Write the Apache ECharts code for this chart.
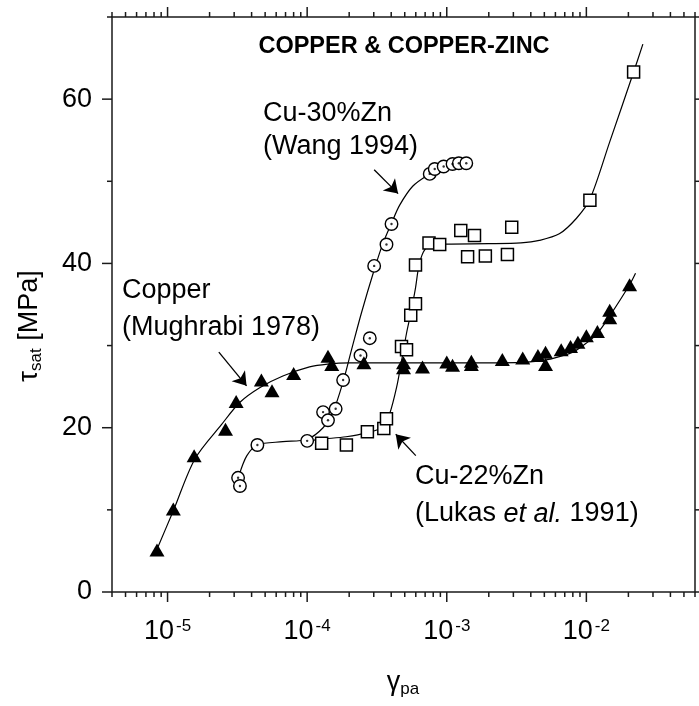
<!DOCTYPE html>
<html><head><meta charset="utf-8">
<script src="https://cdn.jsdelivr.net/npm/echarts@6/dist/echarts.min.js"></script>
<style>html,body{margin:0;padding:0;background:#fff}#c{width:699px;height:706px}</style>
</head><body><div id="c"></div>
<script>
const FONT = 'Liberation Sans, Arial, sans-serif';

// ---- Copper (Mughrabi 1978), filled triangles ----
const copperX = [8.4e-6, 1.1e-5, 1.55e-5, 2.6e-5, 3.1e-5, 4.7e-5, 5.6e-5, 8.0e-5, 1.41e-4, 1.5e-4, 2.55e-4, 4.9e-4, 4.9e-4, 6.7e-4, 1.0e-3, 1.1e-3, 1.5e-3, 1.5e-3, 2.5e-3, 3.5e-3, 4.5e-3, 5.1e-3, 5.1e-3, 6.6e-3, 7.7e-3, 8.7e-3, 1.0e-2, 1.2e-2, 1.47e-2, 1.47e-2, 2.04e-2];
const copperY = [5.1, 10.1, 16.6, 19.8, 23.2, 25.8, 24.5, 26.6, 28.7, 27.7, 27.9, 27.9, 27.3, 27.4, 28.0, 27.6, 28.1, 27.7, 28.3, 28.5, 28.8, 29.2, 27.7, 29.5, 29.9, 30.4, 31.2, 31.7, 33.4, 34.3, 37.4];
const copperFitX = [8.3e-6, 1.1e-5, 1.57e-5, 2.44e-5, 3.3e-5, 4.6e-5, 6.7e-5, 1.04e-4, 1.4e-4, 2.0e-4, 5e-4, 1e-3, 2e-3, 3.5e-3, 4.5e-3, 5.5e-3, 8e-3, 1.0e-2, 1.2e-2, 1.47e-2, 2.04e-2, 2.25e-2];
const copperFitY = [5.0, 9.9, 16.2, 20.4, 23.1, 24.9, 26.3, 27.4, 27.75, 27.9, 27.9, 27.9, 27.9, 27.95, 28.1, 28.35, 29.2, 30.3, 31.5, 33.6, 37.4, 38.8];

// ---- Cu-30%Zn (Wang 1994), open circles with dot ----
const zn30X = [3.2e-5, 3.3e-5, 4.4e-5, 1.0e-4, 1.3e-4, 1.41e-4, 1.6e-4, 1.81e-4, 2.41e-4, 2.81e-4, 3.02e-4, 3.7e-4, 4.02e-4, 7.55e-4, 8.2e-4, 9.5e-4, 1.1e-3, 1.22e-3, 1.38e-3];
const zn30Y = [13.9, 12.9, 17.9, 18.4, 21.9, 20.9, 22.3, 25.8, 28.8, 30.9, 39.7, 42.3, 44.8, 50.9, 51.5, 51.8, 52.1, 52.2, 52.2];
const zn30FitX = [3.25e-5, 3.7e-5, 4.4e-5, 6.7e-5, 1.0e-4, 1.3e-4, 1.53e-4, 1.81e-4, 2.08e-4, 2.45e-4, 3.02e-4, 3.5e-4, 4.02e-4, 4.6e-4, 5.7e-4, 7.4e-4];
const zn30FitY = [14.2, 16.6, 17.9, 18.3, 18.6, 20.0, 21.9, 25.6, 29.5, 34.0, 39.2, 42.5, 44.9, 47.1, 49.4, 50.8];

// ---- Cu-22%Zn (Lukas et al. 1991), open squares ----
const zn22X = [1.27e-4, 1.91e-4, 2.7e-4, 3.54e-4, 3.7e-4, 4.74e-4, 5.15e-4, 5.52e-4, 5.97e-4, 5.97e-4, 7.46e-4, 8.9e-4, 1.26e-3, 1.41e-3, 1.58e-3, 1.89e-3, 2.72e-3, 2.92e-3, 1.06e-2, 2.18e-2];
const zn22Y = [18.1, 17.9, 19.5, 19.9, 21.1, 29.9, 29.5, 33.7, 35.1, 39.8, 42.5, 42.3, 44.0, 40.8, 43.4, 40.9, 41.1, 44.4, 47.7, 63.3];
const zn22FitX = [1.05e-4, 1.27e-4, 1.9e-4, 2.7e-4, 3.5e-4, 3.9e-4, 4.37e-4, 4.74e-4, 5.15e-4, 5.5e-4, 5.97e-4, 6.3e-4, 6.8e-4, 7.6e-4, 1e-3, 2e-3, 3.4e-3, 4.6e-3, 6.4e-3, 8.5e-3, 1.06e-2, 1.47e-2, 2.18e-2, 2.54e-2];
const zn22FitY = [18.4, 18.6, 18.9, 19.4, 20.1, 21.7, 24.9, 28.1, 31.5, 33.8, 37.0, 39.6, 41.4, 42.2, 42.35, 42.4, 42.5, 42.8, 43.6, 45.5, 47.8, 54.8, 63.3, 66.7];

// ---- annotation arrows [fromX, fromY, toX, toY] in data units ----
const arrowWang = [3.02e-4, 51.4, 4.48e-4, 48.5];
const arrowCopper = [2.33e-5, 29.2, 3.68e-5, 25.1];
const arrowLukas = [6.0e-4, 16.6, 4.31e-4, 19.2];

// ---- axes ----
const xMin = 4e-6, xMax = 6e-2;
const yMin = 0, yMax = 70;
const xTickValues = [1e-5, 1e-4, 1e-3, 1e-2];
const xTickExps = ['-5', '-4', '-3', '-2'];
const yTickLabels = [0, 20, 40, 60];
const yMinorStep = 10;
const xMinorMults = [2, 3, 4, 5, 6, 7, 8, 9];

const zip = (xs, ys) => xs.map((x, i) => [x, ys[i]]);
const arrowPair = a => [{coord: [a[0], a[1]]}, {coord: [a[2], a[3]]}];

const chart = echarts.init(document.getElementById('c'), null, {renderer: 'canvas'});

const lineBase = {type: 'line', symbol: 'none', smooth: 0.3, silent: true,
  lineStyle: {color: '#000', width: 1.2}, z: 2};

const option = {
  animation: false,
  backgroundColor: '#fff',
  grid: {left: 112, top: 17, width: 583, height: 575, show: true, borderColor: '#1a1a1a', borderWidth: 1.5, backgroundColor: 'transparent'},
  xAxis: {
    type: 'log', logBase: 10, min: xMin, max: xMax,
    axisLine: {show: false}, axisTick: {show: false}, splitLine: {show: false},
    axisLabel: {show: false}
  },
  yAxis: {
    type: 'value', min: yMin, max: yMax, interval: yMinorStep,
    axisLine: {show: false}, axisTick: {show: false}, splitLine: {show: false},
    axisLabel: {
      margin: 20, fontFamily: FONT, fontSize: 27, color: '#000',
      formatter: v => yTickLabels.includes(v) ? String(v) : ''
    }
  },
  series: [
    Object.assign({}, lineBase, {
      data: zip(copperFitX, copperFitY),
      markLine: {
        silent: true, animation: false, symbol: ['none', 'arrow'], symbolSize: 13,
        label: {show: false},
        lineStyle: {color: '#000', width: 1.3, type: 'solid'},
        emphasis: {disabled: true},
        data: [arrowPair(arrowWang), arrowPair(arrowCopper), arrowPair(arrowLukas)]
      }
    }),
    Object.assign({}, lineBase, {data: zip(zn30FitX, zn30FitY)}),
    Object.assign({}, lineBase, {data: zip(zn22FitX, zn22FitY)}),
    {type: 'scatter', data: zip(zn22X, zn22Y), symbol: 'rect', symbolSize: 12, silent: true, z: 3,
      itemStyle: {color: '#fff', borderColor: '#000', borderWidth: 1.5, opacity: 1}},
    {type: 'scatter', data: zip(zn30X, zn30Y), symbol: 'circle', symbolSize: 12.5, silent: true, z: 4,
      itemStyle: {color: '#fff', borderColor: '#000', borderWidth: 1.4, opacity: 1}},
    {type: 'scatter', data: zip(zn30X, zn30Y), symbol: 'circle', symbolSize: 2.4, silent: true, z: 5,
      itemStyle: {color: '#000'}},
    {type: 'scatter', data: zip(copperX, copperY), symbol: 'triangle', symbolSize: [15, 13], silent: true, z: 6,
      itemStyle: {color: '#000', opacity: 1}}
  ]
};
chart.setOption(option);

// ---- ticks (drawn on all four sides, outward) and texts ----
const px = v => chart.convertToPixel({xAxisIndex: 0}, v);
const py = v => chart.convertToPixel({yAxisIndex: 0}, v);
const L = px(xMin), R = px(xMax), T = py(yMax), B = py(yMin);
const els = [];
const stroke = {stroke: '#1a1a1a', lineWidth: 1.5};
const addLine = (x1, y1, x2, y2) => els.push({type: 'line', silent: true, shape: {x1, y1, x2, y2}, style: stroke, z: 10});
const MAJ = 10, MIN = 5;
for (let k = -6; k <= -1; k++) {
  const base = Math.pow(10, k);
  [1].concat(xMinorMults).forEach(m => {
    const v = m * base;
    if (v < xMin * 0.999 || v > xMax * 1.001) return;
    const x = px(v);
    const len = m === 1 ? MAJ : MIN;
    addLine(x, B, x, B + len);
    addLine(x, T, x, T - len);
  });
}
for (let v = yMin; v <= yMax; v += yMinorStep) {
  const y = py(v);
  const len = yTickLabels.includes(v) ? MAJ : MIN;
  addLine(L - len, y, L, y);
  addLine(R, y, R + len, y);
}
const txt = (text, x, y, extra) => els.push(Object.assign({type: 'text', silent: true, z: 10, x, y,
  style: Object.assign({text, fill: '#000', fontFamily: FONT, fontSize: 27, align: 'left', verticalAlign: 'middle'}, extra || {})}));

// x tick labels 10^n : base and superscript as two plain texts
const mctx = document.createElement('canvas').getContext('2d');
const measure = (s, size) => { mctx.font = size + 'px "Liberation Sans", Arial, sans-serif'; return mctx.measureText(s).width; };
xTickValues.forEach((v, i) => {
  const wb = measure('10', 27), we = measure(xTickExps[i], 17), gap = 2;
  const left = px(v) - (wb + gap + we) / 2;
  txt('10', left, B + 40);
  txt(xTickExps[i], left + wb + gap, B + 34, {fontSize: 17});
});

txt('COPPER & COPPER-ZINC', 404, 47, {fontSize: 23.5, fontWeight: 'bold', align: 'center'});
txt('Cu-30%Zn', 263, 114);
txt('(Wang 1994)', 263, 147);
txt('Copper', 122, 291);
txt('(Mughrabi 1978)', 122, 328);
txt('Cu-22%Zn', 415, 477);
txt('{n|(Lukas }{i|et al.}{n| 1991)}', 415, 514, {rich: {
  n: {fontFamily: FONT, fontSize: 27, fill: '#000'},
  i: {fontFamily: FONT, fontSize: 27, fill: '#000', fontStyle: 'italic'}}});
// axis titles
els.push({type: 'text', silent: true, z: 10, x: 403, y: 683,
  style: {text: '{m|γ}{s|pa}', align: 'center', verticalAlign: 'middle', rich: {
    m: {fontFamily: FONT, fontSize: 27, fill: '#000', lineHeight: 30},
    s: {fontFamily: FONT, fontSize: 17, fill: '#000', lineHeight: 12, verticalAlign: 'bottom'}}}});
els.push({type: 'text', silent: true, z: 10, x: 30, y: 326, rotation: Math.PI / 2,
  style: {text: '{m|τ}{s|sat}{m| [MPa]}', align: 'center', verticalAlign: 'middle', rich: {
    m: {fontFamily: FONT, fontSize: 27, fill: '#000', lineHeight: 30},
    s: {fontFamily: FONT, fontSize: 17, fill: '#000', lineHeight: 12, verticalAlign: 'bottom'}}}});

chart.setOption({graphic: {elements: els}});
</script>
</body></html>
